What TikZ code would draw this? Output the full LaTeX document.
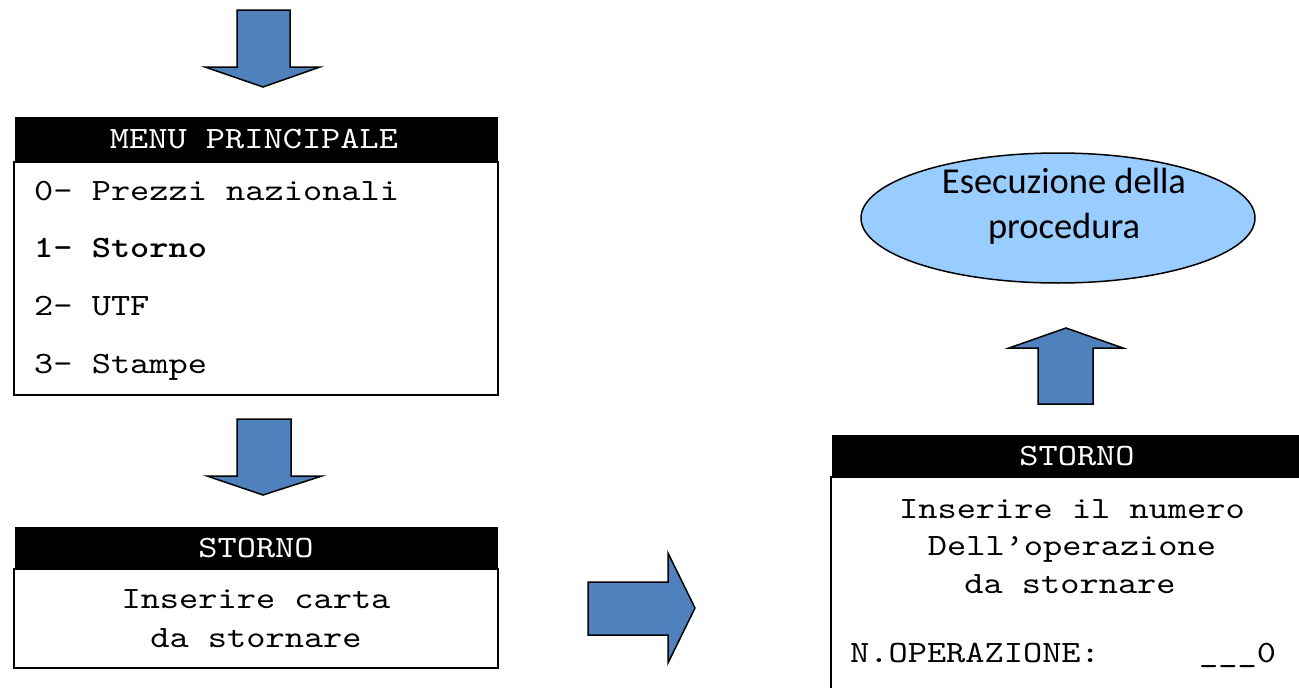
\documentclass[tikz,border=0pt]{standalone}
\usepackage{fontspec}
\newfontfamily\monofam{lmmono10-regular.otf}[FakeStretch=1.18, BoldFont=lmmonolt10-bold.otf]
\newfontfamily\califam{Carlito}
\usetikzlibrary{shapes.geometric}
\definecolor{arrowblue}{RGB}{79,129,189}
\definecolor{ellblue}{RGB}{153,204,255}
\begin{document}
\begin{tikzpicture}[x=1pt,y=-1pt,
  blockarrow/.style={draw=black, fill=arrowblue, line width=1.5pt, line join=miter},
  headbar/.style={fill=black, draw=black, line width=1pt, inner sep=0pt, outer sep=0pt, anchor=north west},
  panel/.style={draw=black, line width=1.5pt, fill=white, inner sep=0pt, outer sep=0pt, anchor=north west},
  monotext/.style={font=\monofam\fontsize{31}{38}\selectfont, inner sep=0pt},
  headtext/.style={monotext, text=white, anchor=base},
  ctext/.style={monotext, anchor=base},
  ltext/.style={monotext, anchor=base west},
]
\useasboundingbox (0,0) rectangle (1299,688);
\clip (0,0) rectangle (1299,688);

% top arrow
\draw[blockarrow] (237,10) -- (290,10) -- (290,67) -- (320,67) -- (263,87) -- (205,67) -- (237,67) -- cycle;

% main menu
\node[headbar, minimum width=482pt, minimum height=45pt] (menuhead) at (15,117) {};
\node[panel, minimum width=484pt, minimum height=233pt] (menubody) at (14,162) {};
\node[headtext] (menutitle) at (254,148) {MENU PRINCIPALE};
\node[ltext] (m0) at (34,200) {0- Prezzi nazionali};
\node[ltext] (m1) at (34,257) {\bfseries 1- Storno};
\node[ltext] (m2) at (34,315) {2- UTF};
\node[ltext] (m3) at (34,373) {3- Stampe};

% second arrow
\draw[blockarrow] (237,419) -- (291,419) -- (291,476) -- (322,476) -- (263,495) -- (207,476) -- (237,476) -- cycle;

% left storno
\node[headbar, minimum width=482pt, minimum height=42pt] (lhead) at (15,527) {};
\node[panel, minimum width=484pt, minimum height=99pt] (lbody) at (14,569) {};
\node[headtext] (ltitle) at (256,557) {STORNO};
\node[ctext] (l1) at (256,608) {Inserire carta};
\node[ctext] (l2) at (256,647) {da stornare};

% right arrow
\draw[blockarrow] (588,582) -- (668,582) -- (668,553) -- (695,608) -- (668,663) -- (668,635) -- (588,635) -- cycle;

% right storno
\node[headbar, minimum width=500pt, minimum height=42pt] (rhead) at (832,435) {};
\node[panel, minimum width=500pt, minimum height=260pt] (rbody) at (831,477) {};
\node[headtext] (rtitle) at (1077,465) {STORNO};
\node[ctext] (r1) at (1072,518) {Inserire il numero};
\node[ctext] (r2) at (1072,555) {Dell’operazione};
\node[ctext] (r3) at (1070,593) {da stornare};
\node[ltext] (r4) at (850,662) {N.OPERAZIONE:};
\node[ltext] (r5) at (1199,662) {\_\_\_0};

% up arrow
\draw[blockarrow] (1038,404) -- (1093,404) -- (1093,348) -- (1123,348) -- (1066,328) -- (1009,348) -- (1038,348) -- cycle;

% ellipse
\node[ellipse, draw=black, line width=1.5pt, fill=ellblue, minimum width=394pt, minimum height=130pt, inner sep=0pt] (proc) at (1058,218) {};
\node[font=\califam\fontsize{36.5}{45}\selectfont, align=center, anchor=base, inner sep=0pt] (proctext) at (1064,238) {Esecuzione della\\procedura};
\end{tikzpicture}
\end{document}
